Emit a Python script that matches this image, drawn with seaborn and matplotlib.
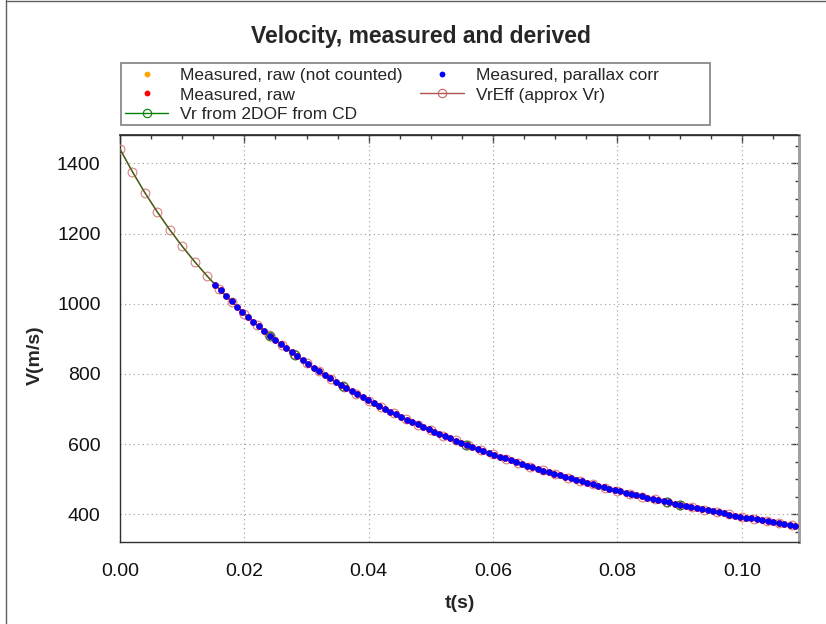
import numpy as np
import pandas as pd
import matplotlib
matplotlib.use("Agg")
import matplotlib.pyplot as plt
from matplotlib.lines import Line2D
from matplotlib.patches import Rectangle
from matplotlib.ticker import MultipleLocator, FormatStrFormatter
import seaborn as sns

# ---- data -------------------------------------------------------------
# Doppler radar samples (parallax corrected), fixed sample interval
meas_t0 = 0.0153          # s, first sample
meas_dt = 0.00088         # s, sample interval
meas_v = [
    1054.2, 1037.9, 1022.0, 1006.5, 991.5, 976.9, 962.6, 948.8, 935.3, 922.2,
    909.3, 896.9, 884.7, 872.8, 861.3, 850.0, 838.9, 828.2, 817.7, 807.4,
    797.3, 787.5, 777.9, 768.5, 759.3, 750.3, 741.6, 732.9, 724.5, 716.2,
    708.2, 700.2, 692.4, 684.8, 677.4, 670.1, 662.9, 655.9, 648.9, 642.2,
    635.5, 629.0, 622.6, 616.3, 610.1, 604.1, 598.1, 592.2, 586.5, 580.8,
    575.3, 569.8, 564.4, 559.2, 554.0, 548.8, 543.8, 538.9, 534.0, 529.2,
    524.5, 519.9, 515.3, 510.8, 506.4, 502.0, 497.7, 493.5, 489.3, 485.2,
    481.2, 477.2, 473.3, 469.4, 465.6, 461.8, 458.1, 454.5, 450.9, 447.3,
    443.8, 440.4, 436.9, 433.6, 430.3, 427.0, 423.7, 420.6, 417.4, 414.3,
    411.2, 408.2, 405.2, 402.3, 399.3, 396.5, 393.6, 390.8, 388.0, 385.3,
    382.6, 379.9, 377.3, 374.7, 372.1, 369.6, 367.1,
]
meas_t = meas_t0 + meas_dt * np.arange(len(meas_v))

# raw (uncorrected) samples; samples flagged as not counted
raw_t = meas_t
raw_v = meas_v
excl_t = []
excl_v = []

# effective radial velocity, 2 ms steps from muzzle
vreff_t = [
    0.000, 0.002, 0.004, 0.006, 0.008, 0.010, 0.012, 0.014, 0.016, 0.018,
    0.020, 0.022, 0.024, 0.026, 0.028, 0.030, 0.032, 0.034, 0.036, 0.038,
    0.040, 0.042, 0.044, 0.046, 0.048, 0.050, 0.052, 0.054, 0.056, 0.058,
    0.060, 0.062, 0.064, 0.066, 0.068, 0.070, 0.072, 0.074, 0.076, 0.078,
    0.080, 0.082, 0.084, 0.086, 0.088, 0.090, 0.092, 0.094, 0.096, 0.098,
    0.100, 0.102, 0.104, 0.106, 0.108,
]
vreff_v = [
    1440.9, 1376.1, 1316.6, 1261.7, 1210.9, 1163.9, 1120.1, 1079.3, 1041.2, 1005.5,
    972.0, 940.5, 910.8, 882.8, 856.4, 831.3, 807.6, 785.1, 763.7, 743.3,
    723.9, 705.4, 687.8, 670.9, 654.7, 639.3, 624.5, 610.3, 596.6, 583.5,
    570.9, 558.8, 547.1, 535.9, 525.0, 514.6, 504.5, 494.7, 485.3, 476.2,
    467.4, 458.9, 450.6, 442.6, 434.9, 427.4, 420.1, 413.0, 406.1, 399.4,
    392.9, 386.6, 380.5, 374.5, 368.7,
]

# 2DOF trajectory from the drag curve: output nodes
dof_t = [0.0241, 0.0281, 0.0359, 0.0557, 0.0880, 0.0900]
dof_v = [909.3, 855.1, 764.7, 598.6, 434.9, 427.4]

x_ticks = [0.00, 0.02, 0.04, 0.06, 0.08, 0.10]
y_ticks = [400, 600, 800, 1000, 1200, 1400]

# ---- figure -----------------------------------------------------------
sns.set_theme(style="white")
plt.rcParams["font.family"] = ["Liberation Sans", "DejaVu Sans"]

W, H = 826, 624
fig = plt.figure(figsize=(W / 100, H / 100), dpi=100)
ax = fig.add_axes([120 / W, 1 - 542 / H, 679 / W, 407 / H])

C_EXCL = "#FFA500"
C_RAW = "#FF0000"
C_MEAS = "#0000FF"
C_VREFF = "#C45A5A"
C_DOF = "#008000"

meas_df = pd.DataFrame({"t": meas_t, "v": meas_v})
raw_df = pd.DataFrame({"t": raw_t, "v": raw_v})
vreff_df = pd.DataFrame({"t": vreff_t, "v": vreff_v})
dof_df = pd.DataFrame({"t": dof_t, "v": dof_v})

# VrEff line with open circles
sns.lineplot(data=vreff_df, x="t", y="v", ax=ax, color=C_VREFF, lw=1.0,
             marker="o", markersize=6.3, markerfacecolor="none",
             markeredgecolor="#D98080", markeredgewidth=0.8,
             estimator=None, sort=False, zorder=3)
# 2DOF curve and its output nodes
sns.lineplot(data=vreff_df, x="t", y="v", ax=ax, color="#3F6A1C", lw=1.0,
             estimator=None, sort=False, zorder=4)
ax.plot(dof_df["t"], dof_df["v"], ls="none", marker="o", markersize=6.3,
        markerfacecolor="none", markeredgecolor="#2E7D2E",
        markeredgewidth=0.9, zorder=4)
# measured samples
sns.scatterplot(data=raw_df, x="t", y="v", ax=ax, color=C_RAW, s=24,
                linewidth=0, zorder=5)
sns.scatterplot(data=meas_df, x="t", y="v", ax=ax, color=C_MEAS, s=21,
                linewidth=0, zorder=6)
if excl_t:
    ax.scatter(excl_t, excl_v, color=C_EXCL, s=21, linewidths=0, zorder=6)

ax.set_xlim(0, 0.1092)
ax.set_ylim(321, 1481)
ax.set_xlabel("")
ax.set_ylabel("")

ax.xaxis.set_major_locator(plt.FixedLocator(x_ticks))
ax.xaxis.set_minor_locator(MultipleLocator(0.005))
ax.xaxis.set_major_formatter(FormatStrFormatter("%.2f"))
ax.yaxis.set_major_locator(plt.FixedLocator(y_ticks))
ax.yaxis.set_minor_locator(MultipleLocator(50))

tick_col = "#404040"
ax.tick_params(which="major", direction="inout", length=10, width=1,
               color=tick_col, labelsize=14, labelcolor="#111111", pad=9)
ax.tick_params(which="minor", direction="inout", length=5, width=1,
               color=tick_col)
ax.tick_params(axis="x", which="major", pad=10)

ax.grid(True, which="major", color="#9a9a9a", lw=0.8,
        linestyle=(0, (1, 3)))

for side in ("left", "bottom", "top"):
    ax.spines[side].set_color("#303030")
    ax.spines[side].set_linewidth(1.0)
ax.spines["right"].set_color("#a0a0a0")
ax.spines["right"].set_linewidth(2.0)

# inward ticks on the top and right edges
top = ax.secondary_xaxis("top")
top.xaxis.set_major_locator(plt.FixedLocator(x_ticks))
top.xaxis.set_minor_locator(MultipleLocator(0.005))
top.tick_params(which="major", direction="in", length=6, width=1,
                color=tick_col, labeltop=False)
top.tick_params(which="minor", direction="in", length=3, width=1,
                color=tick_col)
top.spines["top"].set_color("#303030")
right = ax.secondary_yaxis("right")
right.yaxis.set_major_locator(plt.FixedLocator(y_ticks))
right.yaxis.set_minor_locator(MultipleLocator(50))
right.tick_params(which="major", direction="in", length=6, width=1,
                  color=tick_col, labelright=False)
right.tick_params(which="minor", direction="in", length=3, width=1,
                  color=tick_col)
right.spines["right"].set_color("#a0a0a0")
right.spines["right"].set_linewidth(2.0)

# titles and axis labels
fig.text(421 / W, 1 - 36 / H, "Velocity, measured and derived",
         ha="center", va="center", fontsize=16.5, fontweight="bold")
fig.text(35 / W, 1 - 355 / H, "V(m/s)", ha="center", va="center",
         rotation=90, fontsize=14, fontweight="bold")
fig.text(460 / W, 1 - 603 / H, "t(s)", ha="center", va="center",
         fontsize=14, fontweight="bold")

# legend
handles = [
    Line2D([], [], ls="none", marker="o", markersize=4.2, color=C_EXCL,
           markeredgewidth=0),
    Line2D([], [], ls="none", marker="o", markersize=4.2, color=C_RAW,
           markeredgewidth=0),
    Line2D([], [], color=C_DOF, lw=1, marker="o", markersize=6,
           markerfacecolor="none", markeredgecolor=C_DOF, markeredgewidth=0.8),
    Line2D([], [], ls="none", marker="o", markersize=4.2, color=C_MEAS,
           markeredgewidth=0),
    Line2D([], [], color="#B05050", lw=1, marker="o", markersize=6,
           markerfacecolor="none", markeredgecolor="#C86464",
           markeredgewidth=0.8),
]
labels = ["Measured, raw (not counted)", "Measured, raw",
          "Vr from 2DOF from CD", "Measured, parallax corr",
          "VrEff (approx Vr)"]
leg = fig.legend(handles, labels, loc="upper left",
                 bbox_to_anchor=(120 / W, 1 - 63 / H), ncol=2,
                 fontsize=12.5, frameon=False,
                 borderpad=0.28, labelspacing=0.25, handlelength=2.5,
                 handletextpad=0.7, columnspacing=1.0, borderaxespad=0)
# fixed-width legend box
fig.add_artist(Rectangle((120.5 / W, 1 - 125 / H), 589 / W, 62 / H,
                         transform=fig.transFigure, fill=False,
                         edgecolor="#808080", lw=1.2))

# outer frame of the plot window
fig.add_artist(Line2D([5.5 / W, 5.5 / W], [0, 1], transform=fig.transFigure,
                      color="#606060", lw=1))
fig.add_artist(Line2D([5.5 / W, 1], [1 - 0.5 / H, 1 - 0.5 / H],
                      transform=fig.transFigure, color="#606060", lw=1))

fig.savefig("out.png", dpi=100)
